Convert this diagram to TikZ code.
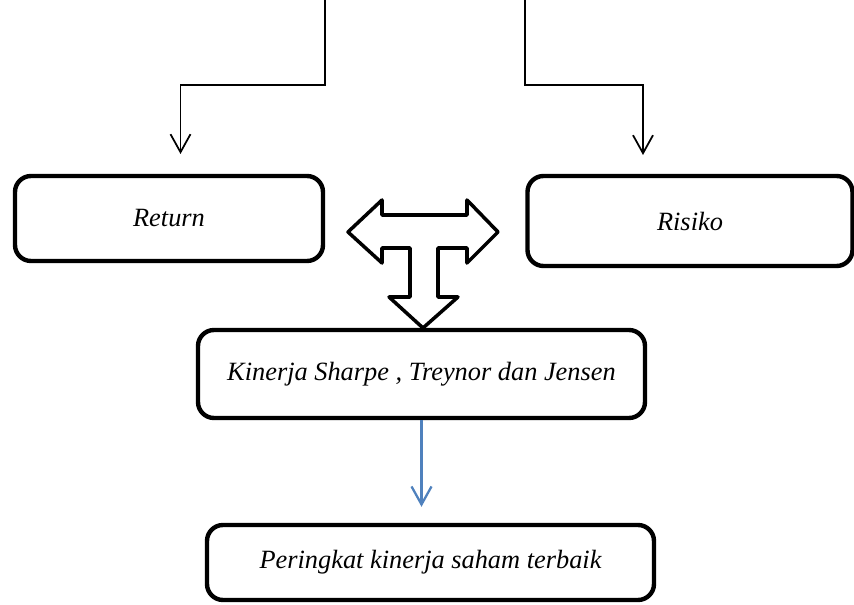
\documentclass[tikz,border=0pt]{standalone}
\usepackage{fontspec}
\setmainfont{Liberation Serif}
\usepackage{xcolor}
\usetikzlibrary{arrows.meta}
\definecolor{arrowblue}{RGB}{79,129,189}

\begin{document}
\begin{tikzpicture}[
        box/.style={draw, line width=2.5pt, rounded corners=0.32cm, font=\fontsize{15}{18}\selectfont\itshape},
        flow/.style={line width=1pt, -{Straight Barb[length=0.36cm, width=0.4cm]}},
        ]
        \useasboundingbox (0,0) rectangle (17.08,-12.1);
        \node[box, minimum width=6.16cm, minimum height=1.7cm](return) at (3.38,-4.37) {Return};
        \node[box, minimum width=6.5cm, minimum height=1.8cm](risiko) at (13.8,-4.42) {Risiko};
        \node[box, minimum width=8.94cm, minimum height=1.76cm](kinerja) at (8.43,-7.48) {Kinerja Sharpe , Treynor dan Jensen};
        \node[box, minimum width=8.94cm, minimum height=1.5cm](peringkat) at (8.61,-11.25) {Peringkat kinerja saham terbaik};
        \coordinate(ltop) at (6.5,0);
        \coordinate(lbend) at (6.5,-1.7);
        \coordinate(lturn) at (3.61,-1.7);
        \coordinate(lhead) at (3.61,-3.08);
        \coordinate(rtop) at (10.5,0);
        \coordinate(rbend) at (10.5,-1.7);
        \coordinate(rturn) at (12.86,-1.7);
        \coordinate(rhead) at (12.86,-3.1);
        \draw[flow](ltop)--(lbend)--(lturn)--(lhead);
        \draw[flow](rtop)--(rbend)--(rturn)--(rhead);
        \draw[flow, arrowblue, line width=1.3pt, shorten >=0.32cm](kinerja.south)--(kinerja.south |- peringkat.north);
        % the T shaped block arrow
        \draw[line width=2pt, line join=round]
                (6.96,-4.64)--(7.64,-4.00)--(7.64,-4.30)--(9.34,-4.30)--(9.34,-4.00)--(9.96,-4.64)
                --(9.34,-5.26)--(9.34,-4.96)--(8.76,-4.96)--(8.76,-5.94)--(9.16,-5.94)--(8.46,-6.56)
                --(7.78,-5.94)--(8.20,-5.94)--(8.20,-4.96)--(7.64,-4.96)--(7.64,-5.26)--cycle;
        \end{tikzpicture}
\end{document}
